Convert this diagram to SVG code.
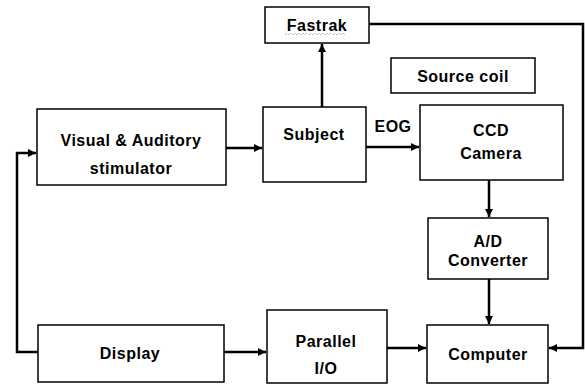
<svg xmlns="http://www.w3.org/2000/svg" width="585" height="385" viewBox="0 0 585 385">
  <style>
    .box { fill: #ffffff; stroke: #000000; stroke-width: 1.5; }
    .lbl { font-family: "Liberation Sans", Arial, sans-serif; font-weight: bold; font-size: 16px; letter-spacing: 0.5px; fill: #000000; text-anchor: middle; }
    .wire { fill: none; stroke: #000000; stroke-width: 2.5; }
  </style>
  <defs>
    <marker id="arrow" markerUnits="userSpaceOnUse" markerWidth="9" markerHeight="8" refX="8" refY="4" orient="auto">
      <path d="M0,0 L8,4 L0,8 Z" fill="#000000"/>
    </marker>
  </defs>
  <rect width="585" height="385" fill="#ffffff"/>

  <g id="connectors">
    <path class="wire" d="M322,107 V44" marker-end="url(#arrow)"/>
    <path class="wire" d="M369,24 H583 V348 H549" marker-end="url(#arrow)"/>
    <path class="wire" d="M226,148 H262" marker-end="url(#arrow)"/>
    <path class="wire" d="M366,147 H419" marker-end="url(#arrow)"/>
    <path class="wire" d="M489,180 V217" marker-end="url(#arrow)"/>
    <path class="wire" d="M489,279 V324" marker-end="url(#arrow)"/>
    <path class="wire" d="M224,352 H266" marker-end="url(#arrow)"/>
    <path class="wire" d="M387,348 H426" marker-end="url(#arrow)"/>
    <path class="wire" d="M38,352 H17 V153 H36" marker-end="url(#arrow)"/>
  </g>

  <g id="fastrak">
    <rect class="box" x="265" y="7" width="104" height="36"/>
    <text class="lbl" x="317" y="31">Fastrak</text>
    <path d="M285,35 l2,-2 l2,2 l2,-2 l2,2 l2,-2 l2,2 l2,-2 l2,2 l2,-2 l2,2 l2,-2 l2,2 l2,-2 l2,2 l2,-2 l2,2 l2,-2 l2,2 l2,-2 l2,2 l2,-2 l2,2 l2,-2 l2,2 l2,-2 l2,2 l2,-2 l2,2 l2,-2 l2,2" fill="none" stroke="#888888" stroke-width="0.8" stroke-dasharray="1 1"/>
  </g>

  <g id="source-coil">
    <rect class="box" x="391" y="58" width="144" height="35"/>
    <text class="lbl" x="463" y="82">Source coil</text>
  </g>

  <g id="stimulator">
    <rect class="box" x="37" y="109" width="189" height="76"/>
    <text class="lbl" x="131" y="146">Visual &amp; Auditory</text>
    <text class="lbl" x="131" y="174">stimulator</text>
  </g>

  <g id="subject">
    <rect class="box" x="263" y="107" width="103" height="75"/>
    <text class="lbl" x="314" y="140">Subject</text>
  </g>

  <g id="eog-label">
    <text class="lbl" x="393" y="132">EOG</text>
  </g>

  <g id="ccd-camera">
    <rect class="box" x="420" y="105" width="143" height="75"/>
    <text class="lbl" x="491" y="136">CCD</text>
    <text class="lbl" x="491" y="159">Camera</text>
  </g>

  <g id="ad-converter">
    <rect class="box" x="428" y="218" width="120" height="61"/>
    <text class="lbl" x="488" y="247">A/D</text>
    <text class="lbl" x="488" y="266">Converter</text>
  </g>

  <g id="display">
    <rect class="box" x="38" y="325" width="186" height="57"/>
    <text class="lbl" x="130" y="359">Display</text>
  </g>

  <g id="parallel-io">
    <rect class="box" x="267" y="310" width="120" height="73"/>
    <text class="lbl" x="326" y="347">Parallel</text>
    <text class="lbl" x="326" y="374">I/O</text>
  </g>

  <g id="computer">
    <rect class="box" x="427" y="325" width="121" height="58"/>
    <text class="lbl" x="488" y="360">Computer</text>
  </g>
</svg>
